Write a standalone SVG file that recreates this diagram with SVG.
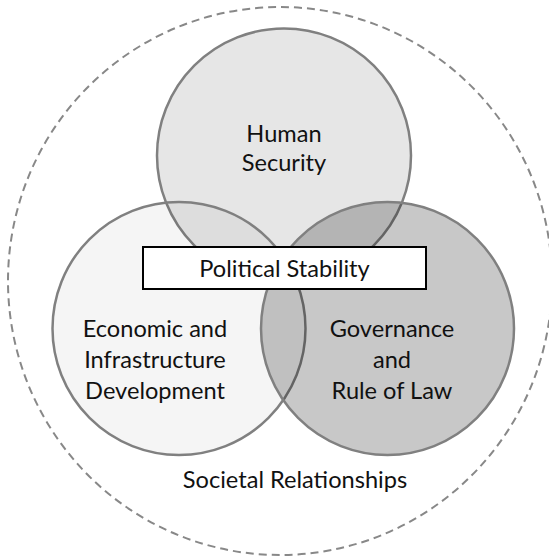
<svg xmlns="http://www.w3.org/2000/svg" width="549" height="558" viewBox="0 0 549 558">
  <style>
    .ring { stroke: #808080; stroke-width: 2.5; }
    .lbl { font-family: Lato, "Open Sans", "Liberation Sans", sans-serif; font-size: 23.6px; fill: #111; text-anchor: middle; }
  </style>
  <rect x="0" y="0" width="549" height="558" fill="#ffffff"/>
  <g id="societal-relationships">
    <ellipse cx="280" cy="281" rx="272" ry="274" fill="none" stroke="#888" stroke-width="2" stroke-dasharray="8 5"/>
    <text class="lbl" x="295" y="488">Societal Relationships</text>
  </g>
  <g id="human-security">
    <circle class="ring" cx="284" cy="155.5" r="127" fill="#000" fill-opacity="0.098"/>
    <text class="lbl" x="284" y="142">Human</text>
    <text class="lbl" x="284" y="171">Security</text>
  </g>
  <g id="economic-infrastructure">
    <circle class="ring" cx="179" cy="328.5" r="126.5" fill="#000" fill-opacity="0.04"/>
    <text class="lbl" x="155" y="337">Economic and</text>
    <text class="lbl" x="155" y="368">Infrastructure</text>
    <text class="lbl" x="155" y="399">Development</text>
  </g>
  <g id="governance-rule-of-law">
    <circle class="ring" cx="387.5" cy="328.5" r="126.5" fill="#000" fill-opacity="0.216"/>
    <text class="lbl" x="392" y="337">Governance</text>
    <text class="lbl" x="392" y="368">and</text>
    <text class="lbl" x="392" y="399">Rule of Law</text>
  </g>
  <g id="political-stability">
    <rect x="143" y="247" width="283" height="42" fill="#ffffff" stroke="#000" stroke-width="2"/>
    <text class="lbl" x="284.5" y="277">Political Stability</text>
  </g>
  <g id="connectors"/>
</svg>
